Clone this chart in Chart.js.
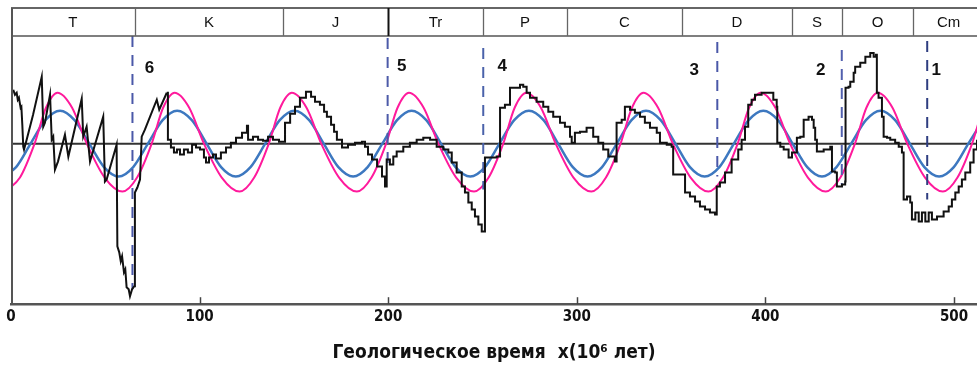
<!DOCTYPE html>
<html>
<head>
<meta charset="utf-8">
<script src="https://cdn.jsdelivr.net/npm/chart.js@4/dist/chart.umd.min.js"></script>
<style>
  html, body { margin: 0; padding: 0; background: #fff; }
  #wrap { width: 977px; height: 365px; }
</style>
</head>
<body>
<div id="wrap"><canvas id="c" width="977" height="365"></canvas></div>
<script>
// Geological periods along the top strip (boundaries in Myr)
const periodNames = ['T', 'K', 'J', 'Tr', 'P', 'C', 'D', 'S', 'O', 'Cm'];
const periodBounds = [0, 65.7, 144.2, 199.9, 250.3, 294.8, 355.8, 414.1, 440.6, 478.3, 516];

// Extinction events (dashed markers)
const eventAges = [64.4, 199.7, 250.4, 374.5, 440.5, 485.8];
const eventLabels = ['6', '5', '4', '3', '2', '1'];
const eventTop = [10.8, 10.6, 9.6, 10.2, 9.4, 10.3];
const eventBottom = [-14.6, -2.6, -4.6, -3.3, -4.1, -5.6];

// Observed record, Cenozoic part (sawtooth)
const blackAgeA = [1.2, 2.1, 3.0, 3.6, 4.2, 5.1, 5.5, 6.0, 6.5, 6.9, 8.3, 11.7, 16.3, 17.1, 18.0, 20.7, 21.6, 22.4, 23.3, 24.9, 28.6, 30.4, 37.5, 38.3, 40.1, 41.9, 48.9, 49.8, 50.7, 56.0, 56.4, 57.4, 58.2, 58.9, 59.9, 60.6, 61.3, 62.4, 63.1, 64.2, 65.4, 65.7, 67.0, 68.4, 69.3, 71.0, 77.3, 78.6, 82.6];
const blackValA = [5.4, 4.9, 5.1, 4.4, 4.6, 3.6, 3.7, 1.9, -0.3, -0.6, 0.4, 2.9, 6.7, 1.7, 2.1, 4.9, 0.4, 0.7, -2.6, -1.8, 0.9, -1.3, 4.5, 0.7, 1.7, -1.8, 2.7, -3.8, -3.6, -0.1, -10.3, -10.9, -11.8, -11.3, -12.9, -12.6, -14.4, -14.6, -15.3, -14.6, -14.3, -4.9, -4.4, -3.6, 0.7, 1.4, 4.4, 3.4, 5.1];

// Observed record, older part (stepped)
const blackAgeB = [82.6, 83.2, 84.8, 86.4, 88.0, 89.6, 91.7, 93.8, 96.0, 98.1, 100.2, 102.3, 103.4, 105.0, 107.1, 108.7, 111.3, 114.0, 116.6, 119.3, 122.5, 125.1, 125.7, 128.3, 131.0, 133.6, 136.3, 138.9, 142.1, 145.3, 148.0, 150.6, 153.2, 156.4, 159.1, 161.2, 163.8, 166.0, 167.5, 169.7, 171.3, 172.8, 175.5, 178.7, 182.4, 186.1, 187.7, 189.3, 191.4, 194.1, 196.7, 198.3, 199.2, 200.9, 202.7, 204.5, 208.0, 211.5, 215.1, 218.6, 222.2, 225.7, 229.2, 231.9, 233.7, 236.3, 239.0, 240.7, 242.5, 244.3, 246.0, 247.8, 249.6, 251.3, 254.0, 257.5, 259.3, 261.9, 264.6, 269.9, 271.6, 273.4, 275.2, 278.7, 282.2, 284.9, 287.5, 291.1, 293.7, 296.4, 297.3, 299.0, 301.7, 305.2, 308.7, 311.4, 314.0, 316.7, 320.2, 321.1, 323.8, 325.5, 328.2, 330.8, 333.5, 336.1, 338.8, 342.4, 344.1, 347.7, 350.3, 351.1, 357.4, 360.0, 362.7, 365.3, 368.0, 370.6, 373.3, 374.2, 375.9, 378.6, 382.1, 385.6, 387.4, 389.2, 390.9, 392.7, 394.5, 398.0, 400.7, 404.2, 406.0, 406.3, 407.9, 409.7, 412.3, 414.1, 416.7, 418.5, 420.3, 422.9, 424.7, 425.6, 426.4, 427.3, 430.9, 434.4, 435.3, 437.0, 437.9, 440.6, 442.3, 442.5, 444.1, 445.0, 446.8, 447.6, 450.3, 453.0, 455.6, 457.4, 458.6, 459.1, 460.0, 461.8, 462.7, 464.5, 466.2, 468.8, 470.7, 472.4, 473.3, 475.1, 476.8, 477.7, 479.5, 481.3, 483.0, 484.8, 486.6, 488.3, 491.0, 494.5, 497.2, 498.9, 500.7, 502.5, 504.2, 506.0, 508.6, 510.4, 512.2];
const blackValB = [5.1, 0.4, -0.4, -0.9, -0.6, -1.1, -0.6, -0.9, -0.1, -0.4, -0.6, -1.4, -1.9, -1.4, -1.1, -1.5, -0.9, -0.4, 0.1, 0.6, 1.1, 1.8, 0.4, 0.7, 0.4, 0.3, 0.7, 0.4, 0.2, 2.1, 3.0, 3.7, 4.6, 5.2, 4.7, 4.2, 3.9, 3.2, 2.7, 1.9, 1.2, 0.4, -0.4, -0.1, 0.1, 0.2, -0.3, -1.1, -1.6, -2.3, -3.3, -4.3, -1.6, -2.1, -1.3, -0.8, -0.3, 0.1, 0.4, 0.6, 0.4, -0.3, -0.6, -0.9, -1.9, -2.9, -4.3, -4.9, -5.9, -6.6, -7.3, -8.1, -8.8, -1.4, -1.4, -1.3, 3.6, 3.9, 5.6, 5.9, 5.7, 5.1, 4.6, 4.2, 3.7, 3.2, 2.7, 2.1, 1.7, 0.7, 0.1, 1.1, 1.2, 1.6, 0.7, 0.1, -0.6, -1.3, -1.8, 2.1, 2.4, 3.7, 3.4, 3.1, 2.7, 2.1, 1.6, 1.1, 0.1, -0.1, -0.3, -3.1, -4.9, -5.3, -5.8, -6.3, -6.6, -6.9, -7.1, -4.3, -3.9, -2.9, -1.6, -0.6, 0.4, 1.7, 3.9, 4.4, 4.9, 5.1, 5.1, 4.4, 3.7, 0.1, -0.3, -0.6, -1.4, -0.9, 0.6, 0.7, 2.4, 2.7, 2.4, 1.6, 0.4, -0.8, -0.6, -0.3, -2.8, -2.9, -4.3, -4.1, -3.8, 5.6, 5.7, 6.2, 7.1, 7.7, 8.1, 8.7, 9.1, 8.7, 8.9, 5.1, 4.6, 2.7, 0.7, 0.6, 0.4, 0.1, -0.3, -0.9, -5.6, -5.3, -5.9, -7.6, -6.9, -7.8, -6.9, -7.8, -6.9, -7.6, -7.3, -6.8, -6.3, -5.6, -4.9, -4.3, -3.6, -2.9, -1.9, -0.6, 0.4];

// 62 Myr cycle fit (blue)
const blueAge = [-5.1, 2.7, 10.4, 18.2, 26.0, 33.7, 41.5, 49.3, 57.1, 64.8, 72.6, 80.4, 88.1, 95.9, 103.7, 111.4, 119.2, 127.0, 134.8, 142.5, 150.3, 158.1, 165.8, 173.6, 181.4, 189.1, 196.9, 204.7, 212.4, 220.2, 228.0, 235.7, 243.5, 251.3, 259.0, 266.8, 274.6, 282.4, 290.1, 297.9, 305.7, 313.4, 321.2, 329.0, 336.7, 344.5, 352.3, 360.0, 367.8, 375.6, 383.3, 391.1, 398.9, 406.7, 414.4, 422.2, 430.0, 437.7, 445.5, 453.3, 461.0, 468.8, 476.6, 484.3, 492.1, 499.9, 507.6, 515.4];
const blueVal = [-3.3, -2.35, 0, 2.35, 3.3, 2.35, 0, -2.35, -3.3, -2.35, 0, 2.35, 3.3, 2.35, 0, -2.35, -3.3, -2.35, 0, 2.35, 3.3, 2.35, 0, -2.35, -3.3, -2.35, 0, 2.35, 3.3, 2.35, 0, -2.35, -3.3, -2.35, 0, 2.35, 3.3, 2.35, 0, -2.35, -3.3, -2.35, 0, 2.35, 3.3, 2.35, 0, -2.35, -3.3, -2.35, 0, 2.35, 3.3, 2.35, 0, -2.35, -3.3, -2.35, 0, 2.35, 3.3, 2.35, 0, -2.35, -3.3, -2.35, 0, 2.35];

// Model curve (magenta)
const pinkAge = [-3.0, 4.75, 12.5, 18.55, 24.6, 32.4, 40.2, 49.65, 59.1, 66.85, 74.6, 80.65, 86.7, 94.5, 102.3, 111.75, 121.2, 128.95, 136.7, 142.75, 148.9, 156.7, 164.5, 173.95, 183.4, 191.15, 198.9, 204.95, 211.0, 218.8, 226.6, 236.05, 245.5, 253.25, 261.0, 267.05, 273.2, 281.0, 288.8, 298.25, 307.7, 315.45, 323.2, 329.25, 335.3, 343.1, 350.9, 360.35, 369.8, 377.55, 385.3, 391.35, 397.5, 405.3, 413.1, 422.55, 432.0, 439.75, 447.5, 453.55, 459.6, 467.4, 475.2, 484.65, 494.1, 501.85, 509.6, 515.65, 521.8];
const pinkVal = [-4.8, -3.4, 0, 3.6, 5.1, 3.6, 0, -3.4, -4.8, -3.4, 0, 3.6, 5.1, 3.6, 0, -3.4, -4.8, -3.4, 0, 3.6, 5.1, 3.6, 0, -3.4, -4.8, -3.4, 0, 3.6, 5.1, 3.6, 0, -3.4, -4.8, -3.4, 0, 3.6, 5.1, 3.6, 0, -3.4, -4.8, -3.4, 0, 3.6, 5.1, 3.6, 0, -3.4, -4.8, -3.4, 0, 3.6, 5.1, 3.6, 0, -3.4, -4.8, -3.4, 0, 3.6, 5.1, 3.6, 0, -3.4, -4.8, -3.4, 0, 3.6, 5.1];

const xTicks = [0, 100, 200, 300, 400, 500];

const zip = (xs, ys) => xs.map((x, i) => ({ x, y: ys[i] }));

const NARROW = '"Liberation Sans Narrow", "Arial Narrow", "DejaVu Sans Condensed", sans-serif';
const BAND_BOTTOM = 10.8;
const labelStyle = { dx: [17, 14, 19, -23, -21, 9], dy: [60, 58, 58, 62, 62, 62] };
const eventColors = ['#4a58a8', '#4c5aa8', '#4a62aa', '#4a58a8', '#5260ae', '#2e3d80'];

const datasets = [
  { data: zip(blackAgeA, blackValA), borderColor: '#111', borderWidth: 2, tension: 0, order: 1 },
  { data: zip(blackAgeB, blackValB), borderColor: '#111', borderWidth: 2, stepped: true, order: 1 },
  { data: zip(pinkAge, pinkVal), borderColor: '#ff1a9c', borderWidth: 2, cubicInterpolationMode: 'monotone', order: 3 },
  { data: zip(blueAge, blueVal), borderColor: '#3d78c0', borderWidth: 2.5, cubicInterpolationMode: 'monotone', order: 4 }
];
eventAges.forEach((a, i) => {
  datasets.push({
    data: [{ x: a, y: eventTop[i] }, { x: a, y: eventBottom[i] }],
    borderColor: eventColors[i], borderWidth: 2, borderDash: [11, 8], order: 2
  });
});

const decor = {
  id: 'decor',
  beforeDatasetsDraw(chart) {
    const { ctx, chartArea: ca, scales: { x, y } } = chart;
    ctx.save();
    // zero line
    const y0 = y.getPixelForValue(0);
    ctx.strokeStyle = '#333';
    ctx.lineWidth = 2;
    ctx.beginPath(); ctx.moveTo(ca.left, y0); ctx.lineTo(ca.right, y0); ctx.stroke();
    // tick marks on the bottom axis, pointing inward
    ctx.strokeStyle = '#444';
    ctx.lineWidth = 1.5;
    xTicks.forEach(t => {
      if (t === 0) return;
      const px = Math.round(x.getPixelForValue(t)) + 0.5;
      ctx.beginPath(); ctx.moveTo(px, ca.bottom); ctx.lineTo(px, ca.bottom - 7); ctx.stroke();
    });
    ctx.restore();
  },
  afterDatasetsDraw(chart) {
    const { ctx, chartArea: ca, scales: { x, y } } = chart;
    ctx.save();
    const bTop = ca.top, bBot = y.getPixelForValue(BAND_BOTTOM);
    ctx.fillStyle = '#fff';
    ctx.fillRect(ca.left, bTop, ca.right - ca.left, bBot - bTop);
    // band outline
    ctx.strokeStyle = '#666'; ctx.lineWidth = 2;
    ctx.beginPath(); ctx.moveTo(ca.left, bTop); ctx.lineTo(ca.right, bTop); ctx.stroke();
    ctx.strokeStyle = '#555'; ctx.lineWidth = 1.5;
    ctx.beginPath(); ctx.moveTo(ca.left, bBot); ctx.lineTo(ca.right, bBot); ctx.stroke();
    // period separators and names
    for (let i = 1; i < periodBounds.length - 1; i++) {
      const px = Math.round(x.getPixelForValue(periodBounds[i])) + 0.5;
      ctx.strokeStyle = i === 3 ? '#111' : '#666';
      ctx.lineWidth = i === 3 ? 2 : 1.3;
      ctx.beginPath(); ctx.moveTo(px, bTop); ctx.lineTo(px, bBot); ctx.stroke();
    }
    ctx.fillStyle = '#111';
    ctx.font = '15px "Liberation Sans", Arial, sans-serif';
    ctx.textAlign = 'center';
    ctx.textBaseline = 'middle';
    periodNames.forEach((n, i) => {
      const cx = (x.getPixelForValue(periodBounds[i]) + x.getPixelForValue(periodBounds[i + 1])) / 2;
      ctx.fillText(n, cx, (bTop + bBot) / 2 + 1);
    });
    // left frame
    ctx.strokeStyle = '#555'; ctx.lineWidth = 2;
    ctx.beginPath(); ctx.moveTo(ca.left + 1, bTop); ctx.lineTo(ca.left + 1, ca.bottom); ctx.stroke();
    // event numbers
    ctx.font = 'bold 17px "Liberation Sans", Arial, sans-serif';
    ctx.fillStyle = '#111';
    eventLabels.forEach((l, i) => {
      ctx.fillText(l, x.getPixelForValue(eventAges[i]) + labelStyle.dx[i], ca.top + labelStyle.dy[i]);
    });
    ctx.restore();
  }
};

new Chart(document.getElementById('c'), {
  type: 'line',
  data: { datasets },
  options: {
    responsive: false,
    animation: false,
    devicePixelRatio: 1,
    layout: { padding: { left: 11, right: 0, top: 8, bottom: 0 } },
    elements: { point: { radius: 0 }, line: { fill: false } },
    plugins: { legend: { display: false }, tooltip: { enabled: false }, title: { display: false } },
    scales: {
      x: {
        type: 'linear', min: 0, max: 512.2,
        afterBuildTicks: s => { s.ticks = xTicks.map(v => ({ value: v })); },
        grid: { display: false, drawTicks: false },
        border: { display: true, color: '#555', width: 2.5 },
        ticks: { color: '#111', padding: 4, maxRotation: 0, font: { family: NARROW, size: 15, weight: 'bold' } },
        title: {
          display: true, text: 'Геологическое время  x(10⁶ лет)', color: '#111',
          font: { family: NARROW, size: 19, weight: 'bold' }, padding: { top: 11, bottom: 1 }
        }
      },
      y: { type: 'linear', min: -16.1, max: 13.6, display: false }
    }
  },
  plugins: [decor]
});
</script>
</body>
</html>
